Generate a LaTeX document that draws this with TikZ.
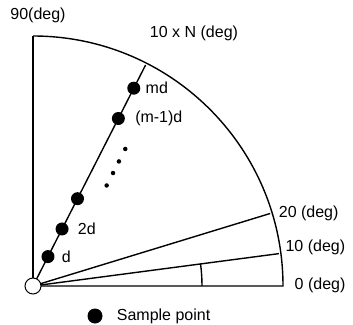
\documentclass[tikz,border=0pt]{standalone}
\usepackage{fontspec}
\setmainfont{Liberation Sans}
\usetikzlibrary{calc,positioning}
\tikzset{
  sample/.style={circle,fill=black,inner sep=0pt,minimum size=13pt},
  tinydot/.style={circle,fill=black,inner sep=0pt,minimum size=4.5pt},
  lbl/.style={inner sep=1pt,font=\fontsize{16}{16}\selectfont},
}
\begin{document}
\begin{tikzpicture}[x=1pt,y=1pt,line width=1.4pt]
\useasboundingbox (-33,-38) rectangle (320,286);
\coordinate (O) at (0,0);
\coordinate (a0) at (0:250);
\coordinate (a10) at (7.5:248);
\coordinate (a20) at (17:248);
\coordinate (aN) at (63:248);
\coordinate (a90) at (90:250);
\draw[line width=2pt] (O) -- (a90);
\draw (a90) arc[start angle=90,end angle=0,radius=250] -- (O);
\draw (O) -- (a10);
\draw (O) -- (a20);
\draw (O) -- (aN);
\draw (169,0) arc[start angle=0,end angle=7.5,radius=169];
% sample points on the 10 x N line
\node[sample] (d1) at (63:33) {};
\node[sample] (d2) at (63:64) {};
\node[sample] (d3) at (63:98) {};
\node[sample] (dm1) at (63:188) {};
\node[sample] (dm) at (63:222) {};
\foreach \r in {123,137,150,164}
  \node[tinydot] at ($(63:\r)+(-27:20)$) {};
\node[draw,fill=white,circle,inner sep=0pt,minimum size=16pt,line width=1pt] (orig) at (O) {};
% labels
\node[lbl,right=5pt of d1] {d};
\node[lbl,right=7pt of d2] {2d};
\node[lbl,right=8pt of dm1] {(m-1)d};
\node[lbl,right=3pt of dm] {md};
\node[lbl] (deg90) at (5,271) {90(deg)};
\node[lbl] (degN) at (161,253) {10 x N (deg)};
\node[lbl,anchor=west] (deg20) at ($(a20)+(7,0)$) {20 (deg)};
\node[lbl,anchor=west] (deg10) at ($(a10)+(5,6)$) {10 (deg)};
\node[lbl,anchor=west] (deg0) at ($(a0)+(10,1)$) {0 (deg)};
% legend
\node[sample,minimum size=15pt] (key) at (62,-30) {};
\node[lbl,right=12pt of key] {Sample point};
\end{tikzpicture}
\end{document}
